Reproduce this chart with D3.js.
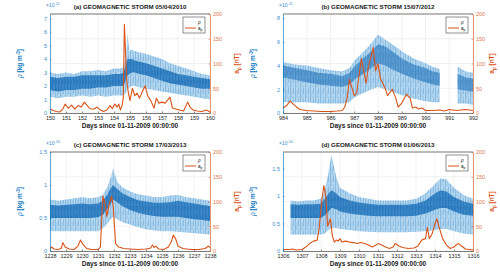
<!DOCTYPE html>
<html>
<head>
<script src="https://cdn.jsdelivr.net/npm/d3@7/dist/d3.min.js"></script>
<style>
  body { margin: 0; background: #fff; }
  text { font-family: "Liberation Sans", Arial, sans-serif; }
</style>
</head>
<body>
<svg width="500" height="274" id="mainsvg"></svg>
<script>
// ---- data (density in units of the exponent shown on each axis, ap in nT) ----
// panel a: 05/04/2010
const aT      = [150, 150.5, 151, 151.5, 152, 152.5, 153, 153.5, 154, 154.4, 154.6, 154.75, 154.85, 154.95, 155.1, 155.3, 155.6, 156, 156.5, 157, 157.5, 158, 158.5, 159, 159.5, 160];
const aHi     = [3.0, 2.9, 3.0, 2.9, 3.1, 3.1, 3.2, 3.1, 3.3, 3.3, 3.4, 4.2, 6.0, 4.6, 4.7, 4.6, 4.5, 4.4, 4.2, 4.0, 3.7, 3.5, 3.3, 3.1, 2.9, 2.8];
const aLo     = [1.2, 1.1, 1.2, 1.2, 1.3, 1.2, 1.3, 1.2, 1.3, 1.3, 1.3, 1.5, 1.8, 1.9, 2.0, 2.0, 1.9, 1.8, 1.7, 1.6, 1.5, 1.4, 1.3, 1.2, 1.1, 1.0];
const aCoreHi = [2.7, 2.6, 2.7, 2.7, 2.8, 2.8, 2.8, 2.8, 2.9, 2.9, 3.0, 3.6, 4.0, 4.0, 4.0, 3.9, 3.8, 3.7, 3.5, 3.3, 3.1, 2.9, 2.8, 2.7, 2.6, 2.5];
const aCoreLo = [1.7, 1.6, 1.7, 1.7, 1.8, 1.8, 1.9, 1.9, 2.0, 2.0, 2.0, 2.5, 2.8, 2.9, 3.0, 3.0, 2.9, 2.8, 2.6, 2.4, 2.2, 2.1, 2.0, 1.9, 1.8, 1.8];
const aApT = [150, 150.2, 150.4, 150.6, 150.8, 150.95, 151.15, 151.35, 151.55, 151.75, 151.95, 152.15, 152.35, 152.55, 152.75, 152.95, 153.15, 153.35, 153.55, 153.75, 153.9, 154.05, 154.2, 154.3, 154.4, 154.5, 154.58, 154.65, 154.75, 154.8, 154.9, 155, 155.15, 155.3, 155.45, 155.6, 155.75, 155.95, 156.1, 156.3, 156.5, 156.65, 156.8, 157, 157.2, 157.5, 157.65, 157.85, 158.1, 158.35, 158.6, 158.75, 158.95, 159.2, 159.5, 159.75, 159.9, 160];
const aAp  = [8, 5, 3, 2, 8, 18, 10, 16, 8, 15, 12, 22, 14, 8, 8, 12, 6, 3, 6, 15, 9, 18, 12, 18, 6, 15, 30, 179, 100, 65, 40, 25, 50, 35, 40, 30, 42, 55, 35, 25, 10, 30, 20, 22, 20, 32, 10, 8, 6, 4, 22, 12, 6, 4, 3, 6, 4, 2];

// panel b: 15/07/2012 (null = data gap)
const bT      = [984, 984.5, 985, 985.5, 986, 986.5, 986.8, 987, 987.3, 987.6, 988, 988.3, 988.6, 989, 989.5, 990, 990.3, 990.6, 991, 991.35, 991.7, 992];
const bHi     = [4.3, 4.1, 4.0, 3.8, 3.6, 3.5, 3.8, 4.4, 5.0, 5.6, 6.6, 6.2, 5.8, 5.2, 4.6, 4.2, 3.9, 3.7, null, 3.9, 3.5, 3.4];
const bLo     = [0.9, 0.9, 0.9, 0.8, 0.8, 0.8, 0.9, 1.3, 1.6, 1.9, 2.2, 2.0, 1.8, 1.5, 1.2, 1.0, 0.9, 0.9, null, 0.8, 0.8, 0.7];
const bCoreHi = [4.0, 3.8, 3.6, 3.4, 3.3, 3.1, 3.4, 3.9, 4.5, 5.0, 5.8, 5.6, 5.2, 4.6, 4.1, 3.8, 3.5, 3.4, null, 3.3, 3.0, 2.9];
const bCoreLo = [3.0, 2.8, 2.6, 2.4, 2.3, 2.2, 2.4, 2.8, 3.2, 3.6, 4.2, 4.0, 3.7, 3.3, 2.9, 2.6, 2.4, 2.3, null, 2.0, 1.9, 1.8];
const bApT = [984, 984.15, 984.3, 984.5, 984.7, 985, 985.3, 985.6, 986, 986.3, 986.5, 986.6, 986.7, 986.8, 987, 987.1, 987.3, 987.5, 987.6, 987.8, 987.9, 988, 988.1, 988.3, 988.4, 988.6, 988.75, 988.85, 989, 989.2, 989.35, 989.45, 989.6, 989.7, 989.85, 990, 990.3, 990.6, 990.8, 991, 991.3, 991.5, 991.7, 992];
const bAp  = [10, 15, 24, 15, 7, 5, 4, 3, 3, 4, 5, 12, 30, 68, 35, 40, 110, 60, 95, 132, 85, 100, 70, 50, 35, 48, 30, 12, 20, 38, 30, 10, 12, 8, 10, 5, 5, 6, 4, 7, 5, 6, 7, 5];

// panel c: 17/03/2013
const cT      = [1228, 1228.5, 1229, 1229.5, 1230, 1230.5, 1231, 1231.3, 1231.6, 1231.8, 1231.95, 1232.2, 1232.5, 1233, 1233.5, 1234, 1234.5, 1235, 1235.5, 1236, 1236.5, 1237, 1237.5, 1238];
const cHi     = [0.78, 0.76, 0.78, 0.80, 0.82, 0.80, 0.82, 0.85, 0.98, 1.12, 1.25, 1.05, 0.97, 0.90, 0.86, 0.84, 0.82, 0.82, 0.84, 0.85, 0.82, 0.80, 0.78, 0.76];
const cLo     = [0.30, 0.30, 0.30, 0.30, 0.30, 0.30, 0.30, 0.34, 0.42, 0.48, 0.52, 0.48, 0.44, 0.40, 0.36, 0.33, 0.31, 0.30, 0.30, 0.29, 0.28, 0.27, 0.26, 0.25];
const cCoreHi = [0.70, 0.69, 0.70, 0.71, 0.72, 0.71, 0.72, 0.76, 0.86, 0.95, 1.00, 0.94, 0.88, 0.82, 0.77, 0.75, 0.73, 0.73, 0.74, 0.76, 0.74, 0.72, 0.70, 0.68];
const cCoreLo = [0.50, 0.50, 0.50, 0.50, 0.50, 0.50, 0.51, 0.55, 0.64, 0.72, 0.78, 0.74, 0.68, 0.62, 0.58, 0.55, 0.53, 0.52, 0.52, 0.52, 0.50, 0.48, 0.47, 0.45];
const cApT = [1228, 1228.1, 1228.25, 1228.5, 1228.7, 1228.8, 1228.95, 1229.2, 1229.5, 1229.75, 1229.9, 1230.05, 1230.3, 1230.6, 1231, 1231.15, 1231.3, 1231.45, 1231.55, 1231.7, 1231.85, 1231.95, 1232.1, 1232.3, 1232.6, 1233, 1233.5, 1234, 1234.3, 1234.4, 1234.5, 1234.6, 1234.8, 1235.1, 1235.4, 1235.6, 1235.7, 1235.85, 1236, 1236.3, 1236.8, 1237.3, 1237.7, 1237.9, 1238];
const cAp  = [5, 8, 4, 3, 5, 17, 8, 4, 3, 10, 22, 14, 5, 3, 3, 8, 111, 95, 70, 95, 111, 90, 15, 8, 5, 4, 3, 4, 6, 12, 7, 10, 4, 3, 8, 20, 32, 25, 10, 5, 3, 3, 5, 10, 7];

// panel d: 01/06/2013
const dT      = [1306.4, 1306.8, 1307.2, 1307.6, 1308, 1308.2, 1308.4, 1308.55, 1308.8, 1309, 1309.5, 1310, 1310.5, 1311, 1311.5, 1312, 1312.5, 1313, 1313.5, 1314, 1314.3, 1314.6, 1315, 1315.5, 1316];
const dHi     = [0.92, 0.90, 0.92, 0.92, 0.95, 1.10, 1.45, 1.75, 1.35, 1.15, 1.05, 0.98, 0.95, 0.92, 0.92, 0.92, 0.92, 0.95, 1.05, 1.22, 1.32, 1.30, 1.15, 1.02, 0.95];
const dLo     = [0.30, 0.30, 0.30, 0.30, 0.30, 0.32, 0.38, 0.42, 0.42, 0.40, 0.38, 0.36, 0.35, 0.34, 0.34, 0.34, 0.34, 0.35, 0.36, 0.38, 0.40, 0.40, 0.36, 0.32, 0.30];
const dCoreHi = [0.85, 0.84, 0.85, 0.85, 0.86, 0.95, 1.05, 1.10, 1.05, 0.98, 0.92, 0.88, 0.86, 0.84, 0.84, 0.84, 0.84, 0.86, 0.92, 1.05, 1.10, 1.08, 0.98, 0.90, 0.86];
const dCoreLo = [0.60, 0.60, 0.60, 0.60, 0.60, 0.65, 0.72, 0.78, 0.76, 0.72, 0.68, 0.66, 0.64, 0.63, 0.63, 0.63, 0.63, 0.64, 0.68, 0.75, 0.78, 0.78, 0.72, 0.66, 0.64];
const dApT = [1306, 1306.3, 1306.5, 1306.7, 1307, 1307.2, 1307.4, 1307.6, 1307.8, 1307.9, 1308.05, 1308.15, 1308.25, 1308.35, 1308.45, 1308.5, 1308.6, 1308.7, 1308.8, 1308.9, 1309, 1309.1, 1309.3, 1309.5, 1309.7, 1309.9, 1310.1, 1310.3, 1310.5, 1310.7, 1310.9, 1311, 1311.2, 1311.4, 1311.6, 1311.8, 1311.9, 1312.1, 1312.3, 1312.6, 1312.9, 1313.1, 1313.3, 1313.5, 1313.6, 1313.7, 1313.85, 1314, 1314.1, 1314.2, 1314.4, 1314.6, 1314.8, 1315, 1315.1, 1315.25, 1315.4, 1315.6, 1315.8, 1316];
const dAp  = [3, 3, 4, 2, 3, 8, 15, 20, 22, 45, 105, 132, 110, 50, 60, 65, 30, 18, 22, 20, 25, 18, 20, 18, 17, 15, 17, 15, 12, 8, 12, 15, 12, 8, 5, 8, 15, 10, 7, 5, 6, 10, 22, 25, 48, 25, 35, 55, 65, 50, 25, 12, 5, 8, 12, 15, 10, 4, 3, 2];

const apTicks = [0, 50, 100, 150, 200];

// ---- drawing ----
const svg = d3.select('svg');
const blue = '#0072BD', orange = '#D95319';
const blueTxt = '#3a8ccc', orangeTxt = '#dd7a4c';

const panels = [
  { title: '(a) GEOMAGNETIC STORM 05/04/2010', x0: 50, x1: 210, y0: 14, y1: 113, xDom: [150, 160], yMax: 7.35, yTicks: d3.range(0, 8), exp: '-11', rOff: 29,
    t: aT, hi: aHi, lo: aLo, chi: aCoreHi, clo: aCoreLo, apT: aApT, ap: aAp },
  { title: '(b) GEOMAGNETIC STORM 15/07/2012', x0: 283, x1: 473, y0: 14, y1: 113, xDom: [984, 992], yMax: 8.35, yTicks: [0, 2, 4, 6, 8], exp: '-11', rOff: 21,
    t: bT, hi: bHi, lo: bLo, chi: bCoreHi, clo: bCoreLo, apT: bApT, ap: bAp },
  { title: '(c) GEOMAGNETIC STORM 17/03/2013', x0: 50, x1: 210, y0: 152, y1: 251, xDom: [1228, 1238], yMax: 1.5, yTicks: [0, 0.5, 1, 1.5], exp: '-10', rOff: 29,
    t: cT, hi: cHi, lo: cLo, chi: cCoreHi, clo: cCoreLo, apT: cApT, ap: cAp },
  { title: '(d) GEOMAGNETIC STORM 01/06/2013', x0: 283, x1: 473, y0: 152, y1: 251, xDom: [1306, 1316], yMax: 1.8, yTicks: [0, 0.5, 1, 1.5], exp: '-10', rOff: 21,
    t: dT, hi: dHi, lo: dLo, chi: dCoreHi, clo: dCoreLo, apT: dApT, ap: dAp }
];

// streaky textures for the scatter cloud (vertical streaks like dense markers)
const defs = svg.append('defs');
const light = defs.append('pattern').attr('id', 'lightTex').attr('patternUnits', 'userSpaceOnUse').attr('width', 5).attr('height', 11);
light.append('rect').attr('width', 5).attr('height', 11).attr('fill', '#b5d7ef');
light.append('rect').attr('x', 0).attr('width', 0.6).attr('height', 11).attr('fill', '#6aa8da');
light.append('rect').attr('x', 1.8).attr('y', 2).attr('width', 0.5).attr('height', 8).attr('fill', '#7fb6e0');
light.append('rect').attr('x', 3.4).attr('y', 0).attr('width', 0.5).attr('height', 6).attr('fill', '#5f9fd5');
light.append('rect').attr('x', 3.4).attr('y', 8).attr('width', 0.5).attr('height', 3).attr('fill', '#8cbfe4');
const dark = defs.append('pattern').attr('id', 'darkTex').attr('patternUnits', 'userSpaceOnUse').attr('width', 3).attr('height', 9);
dark.append('rect').attr('width', 3).attr('height', 9).attr('fill', '#1f71b8');
dark.append('rect').attr('x', 0.5).attr('width', 0.5).attr('height', 9).attr('fill', '#3c8ccd');
dark.append('rect').attr('x', 2).attr('y', 3).attr('width', 0.4).attr('height', 5).attr('fill', '#4a97d3');

panels.forEach((p, i) => {
  const g = svg.append('g');
  const x = d3.scaleLinear().domain(p.xDom).range([p.x0, p.x1]);
  const yL = d3.scaleLinear().domain([0, p.yMax]).range([p.y1, p.y0]);
  const yR = d3.scaleLinear().domain([0, 200]).range([p.y1, p.y0]);
  const xTicks = d3.range(p.xDom[0], p.xDom[1] + 1);
  const cx = (p.x0 + p.x1) / 2;

  defs.append('clipPath').attr('id', 'clip' + i).append('rect')
    .attr('x', p.x0).attr('y', p.y0).attr('width', p.x1 - p.x0).attr('height', p.y1 - p.y0);

  // grid
  g.selectAll('.vg').data(xTicks).join('line')
    .attr('x1', d => x(d)).attr('x2', d => x(d)).attr('y1', p.y0).attr('y2', p.y1)
    .attr('stroke', '#e4e4e4').attr('stroke-width', 0.5);
  g.selectAll('.hg').data(apTicks).join('line')
    .attr('x1', p.x0).attr('x2', p.x1).attr('y1', d => yR(d)).attr('y2', d => yR(d))
    .attr('stroke', '#e4e4e4').attr('stroke-width', 0.5);

  // density cloud
  const rows = p.t.map((t, k) => ({ t, hi: p.hi[k], lo: p.lo[k], chi: p.chi[k], clo: p.clo[k] }));
  const cloud = g.append('g').attr('clip-path', `url(#clip${i})`);
  cloud.append('path').datum(rows)
    .attr('d', d3.area().defined(d => d.hi != null).x(d => x(d.t)).y0(d => yL(d.lo)).y1(d => yL(d.hi)))
    .attr('fill', 'url(#lightTex)');
  cloud.append('path').datum(rows)
    .attr('d', d3.area().defined(d => d.chi != null).x(d => x(d.t)).y0(d => yL(d.clo)).y1(d => yL(d.chi)))
    .attr('fill', 'url(#darkTex)').attr('opacity', i === 1 ? 0.65 : 0.9);

  // ap line
  const apRows = p.apT.map((t, k) => ({ t, v: p.ap[k] }));
  g.append('path').datum(apRows)
    .attr('d', d3.line().x(d => x(d.t)).y(d => yR(d.v)))
    .attr('fill', 'none').attr('stroke', orange).attr('stroke-width', 1.1).attr('stroke-linejoin', 'round');

  // axes
  const xAxis = g.append('g').attr('transform', `translate(0,${p.y1})`)
    .call(d3.axisBottom(x).tickValues(xTicks).tickFormat(d3.format('d')).tickSize(-1.5).tickSizeOuter(0).tickPadding(3));
  xAxis.select('.domain').attr('stroke', '#262626').attr('stroke-width', 0.6);
  xAxis.selectAll('.tick line').attr('stroke', '#262626').attr('stroke-width', 0.5);
  xAxis.selectAll('text').attr('font-size', 5.5).attr('fill', '#262626');

  const lAxis = g.append('g').attr('transform', `translate(${p.x0},0)`)
    .call(d3.axisLeft(yL).tickValues(p.yTicks).tickFormat(d => d).tickSize(-1.5).tickSizeOuter(0).tickPadding(3));
  lAxis.select('.domain').attr('stroke', blue).attr('stroke-width', 0.6);
  lAxis.selectAll('.tick line').attr('stroke', blue).attr('stroke-width', 0.5);
  lAxis.selectAll('text').attr('font-size', 5.5).attr('fill', blueTxt);

  const rAxis = g.append('g').attr('transform', `translate(${p.x1},0)`)
    .call(d3.axisRight(yR).tickValues(apTicks).tickSize(-1.5).tickSizeOuter(0).tickPadding(3));
  rAxis.select('.domain').attr('stroke', orange).attr('stroke-width', 0.6);
  rAxis.selectAll('.tick line').attr('stroke', orange).attr('stroke-width', 0.5);
  rAxis.selectAll('text').attr('font-size', 5.5).attr('fill', orangeTxt);

  // top frame
  g.append('line').attr('x1', p.x0).attr('x2', p.x1).attr('y1', p.y0).attr('y2', p.y0)
    .attr('stroke', '#262626').attr('stroke-width', 0.6);

  // exponent
  const ex = g.append('text').attr('x', p.x0 - 4).attr('y', p.y0 - 7).attr('font-size', 5).attr('fill', blueTxt);
  ex.append('tspan').text('\u00d710');
  ex.append('tspan').attr('dy', -2).attr('font-size', 3.8).text(p.exp);

  // title
  g.append('text').attr('x', cx).attr('y', p.y0 - 5).attr('text-anchor', 'middle')
    .attr('font-size', 6.2).attr('font-weight', 'bold').attr('fill', '#1a1a1a').text(p.title);

  // x label
  g.append('text').attr('x', cx).attr('y', p.y1 + 15).attr('text-anchor', 'middle')
    .attr('font-size', 6.5).attr('font-weight', 'bold').attr('fill', '#1a1a1a')
    .text('Days since 01-11-2009 00:00:00');

  // left label
  const lx = p.x0 - 28, ly = (p.y0 + p.y1) / 2;
  const ll = g.append('text').attr('transform', `translate(${lx},${ly}) rotate(-90)`)
    .attr('text-anchor', 'middle').attr('font-size', 6.5).attr('font-weight', 'bold').attr('fill', blue);
  ll.append('tspan').attr('font-style', 'italic').attr('font-weight', 'normal').text('\u03c1');
  ll.append('tspan').text(' [kg m');
  ll.append('tspan').attr('dy', -2.5).attr('font-size', 4.5).text('-3');
  ll.append('tspan').attr('dy', 2.5).text(']');

  // right label
  const rl = g.append('text').attr('transform', `translate(${p.x1 + p.rOff},${ly}) rotate(-90)`)
    .attr('text-anchor', 'middle').attr('font-size', 6.5).attr('font-weight', 'bold').attr('fill', orange);
  rl.append('tspan').text('a');
  rl.append('tspan').attr('dy', 2).attr('font-size', 4.5).text('p');
  rl.append('tspan').attr('dy', -2).text(' [nT]');

  // legend
  const lgx = p.x1 - 27, lgy = p.y0 + 3;
  const lg = g.append('g');
  lg.append('rect').attr('x', lgx).attr('y', lgy).attr('width', 22).attr('height', 16)
    .attr('fill', '#fff').attr('stroke', '#262626').attr('stroke-width', 0.5);
  lg.selectAll('.ldot').data([0, 3, 6, 9]).join('circle')
    .attr('cx', d => lgx + 3 + d).attr('cy', lgy + 5).attr('r', 0.3).attr('fill', blue);
  lg.append('text').attr('x', lgx + 15).attr('y', lgy + 6.5).attr('font-size', 4.5).attr('font-style', 'italic').text('\u03c1');
  lg.append('line').attr('x1', lgx + 2).attr('x2', lgx + 13).attr('y1', lgy + 11).attr('y2', lgy + 11)
    .attr('stroke', orange).attr('stroke-width', 1);
  const lt = lg.append('text').attr('x', lgx + 15).attr('y', lgy + 12.5).attr('font-size', 4.5);
  lt.append('tspan').text('a');
  lt.append('tspan').attr('dy', 1.2).attr('font-size', 3.3).text('p');
});
</script>
</body>
</html>
